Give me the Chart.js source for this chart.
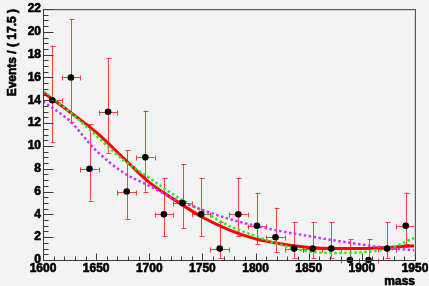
<!DOCTYPE html>
<html><head><meta charset="utf-8">
<script src="https://cdn.jsdelivr.net/npm/chart.js@4/dist/chart.umd.min.js"></script>
<style>html,body{margin:0;padding:0;background:#f3f3f3;}#c{display:block;}</style>
</head><body>
<canvas id="c" width="429" height="286"></canvas>
<script>
// ---- data ----
const binCenters = [1608.75,1626.25,1643.75,1661.25,1678.75,1696.25,1713.75,1731.25,1748.75,1766.25,1783.75,1801.25,1818.75,1836.25,1853.75,1871.25,1888.75,1906.25,1923.75,1941.25];
const counts     = [14,16,8,13,6,9,4,5,4,1,4,3,2,1,1,1,0,0,1,3];
const errLow     = [3.7,3.9,2.8,3.6,2.4,3.0,1.9,2.2,1.9,0.8,1.9,1.6,1.3,0.8,0.8,0.8,0,0,0.8,1.6];
const errHigh    = [4.8,5.1,3.9,4.7,3.6,4.1,3.2,3.4,3.2,2.3,3.2,2.9,2.6,2.3,2.3,2.3,1.8,1.8,2.3,2.9];
const binHalfWidth = 8.75;
const curveX     = [1600,1625,1650,1675,1700,1725,1750,1775,1800,1825,1850,1875,1900,1925,1950];
const redFit     = [14.7,13.0,11.2,9.0,6.8,5.2,3.75,2.65,1.85,1.4,1.1,1.0,1.0,1.1,1.25];
const greenFit   = [14.8,13.0,10.9,8.8,7.2,5.6,4.3,3.0,2.1,1.3,0.75,0.62,0.68,1.0,1.95];
const violetFit  = [13.9,12.2,9.6,7.7,6.5,5.3,4.4,3.6,3.0,2.5,2.1,1.7,1.35,1.05,0.85];
const xTickLabels = ['1600','1650','1700','1750','1800','1850','1900','1950'];
const yTickLabels = ['0','2','4','6','8','10','12','14','16','18','20','22'];
const xTitle = 'mass';
const yTitle = 'Events / ( 17.5 )';

const pts = (xs, ys) => xs.map((x,i)=>({x:x,y:ys[i]}));
const FONT = 'bold 12px "Liberation Sans", Arial, Helvetica, sans-serif';

function boldText(ctx, t, x, y){
  ctx.fillText(t, x, y);
  ctx.strokeText(t, x, y);
}

const bgPlugin = {
  id:'bg',
  beforeDraw(chart){
    const ctx = chart.ctx;
    ctx.save(); ctx.fillStyle='#f3f3f3'; ctx.fillRect(0,0,chart.width,chart.height); ctx.restore();
  }
};

const errPlugin = {
  id:'errbars',
  beforeDatasetsDraw(chart){
    const {ctx, scales:{x,y}} = chart;
    ctx.save();
    ctx.strokeStyle='rgba(255,30,30,0.85)';
    ctx.lineWidth=1;
    binCenters.forEach((bc,i)=>{
      const px = Math.round(x.getPixelForValue(bc))+0.5;
      const py = Math.round(y.getPixelForValue(counts[i]))+0.5;
      const yl = y.getPixelForValue(counts[i]-errLow[i]);
      const yh = y.getPixelForValue(counts[i]+errHigh[i]);
      const xl = x.getPixelForValue(bc-binHalfWidth);
      const xh = x.getPixelForValue(bc+binHalfWidth);
      ctx.beginPath();
      ctx.moveTo(px,yl); ctx.lineTo(px,yh);
      ctx.moveTo(px-2,Math.round(yh)+0.5); ctx.lineTo(px+3,Math.round(yh)+0.5);
      if (errLow[i]>0){ ctx.moveTo(px-2,Math.round(yl)+0.5); ctx.lineTo(px+3,Math.round(yl)+0.5); }
      ctx.moveTo(xl,py); ctx.lineTo(xh,py);
      ctx.moveTo(Math.round(xl)+0.5,py-2); ctx.lineTo(Math.round(xl)+0.5,py+3);
      ctx.moveTo(Math.round(xh)+0.5,py-2); ctx.lineTo(Math.round(xh)+0.5,py+3);
      ctx.stroke();
    });
    ctx.restore();
  }
};

const axesPlugin = {
  id:'rootaxes',
  afterDraw(chart){
    const {ctx, chartArea:a, scales:{x,y}} = chart;
    ctx.save();
    ctx.lineWidth=1;
    ctx.strokeStyle='#5a5a5a';
    ctx.beginPath(); ctx.moveTo(a.left,a.top+0.5); ctx.lineTo(a.right+1,a.top+0.5); ctx.stroke();
    ctx.beginPath(); ctx.moveTo(a.right+0.5,a.top); ctx.lineTo(a.right+0.5,a.bottom); ctx.stroke();
    ctx.strokeStyle='#d4d4d4';
    ctx.beginPath(); ctx.moveTo(a.left,a.top+1.5); ctx.lineTo(a.right,a.top+1.5); ctx.stroke();
    ctx.beginPath(); ctx.moveTo(a.right-0.5,a.top+1); ctx.lineTo(a.right-0.5,a.bottom); ctx.stroke();
    ctx.strokeStyle='#3a3a3a';
    const L = Math.round(a.left)+0.5, B = Math.round(a.bottom)+0.5;
    ctx.beginPath(); ctx.moveTo(L,a.top); ctx.lineTo(L,B); ctx.lineTo(a.right+1,B); ctx.stroke();
    ctx.beginPath();
    for(let v=0; v<=22.001; v+=0.5){
      const py = Math.round(y.getPixelForValue(v))+0.5;
      const len = (Math.abs(v/2-Math.round(v/2))<1e-6) ? 10 : 5;
      ctx.moveTo(L,py); ctx.lineTo(L+len,py);
    }
    for(let v=1600; v<=1950; v+=10){
      const px = Math.round(x.getPixelForValue(v))+0.5;
      const len = (v%50===0) ? 7 : 4;
      ctx.moveTo(px,B); ctx.lineTo(px,B-len);
    }
    ctx.stroke();
    ctx.fillStyle='#000';
    ctx.strokeStyle='#000';
    ctx.lineWidth=0.6;
    ctx.font=FONT;
    ctx.textAlign='right'; ctx.textBaseline='middle';
    yTickLabels.forEach(t=>{
      boldText(ctx, t, a.left-2, y.getPixelForValue(parseFloat(t)));
    });
    ctx.textAlign='center'; ctx.textBaseline='top';
    xTickLabels.forEach(t=>{
      boldText(ctx, t, x.getPixelForValue(parseFloat(t)), a.bottom+3);
    });
    ctx.textAlign='right'; ctx.textBaseline='top';
    boldText(ctx, xTitle, a.right, a.bottom+16);
    ctx.save();
    ctx.translate(7, a.top);
    ctx.rotate(-Math.PI/2);
    ctx.textAlign='right'; ctx.textBaseline='top';
    boldText(ctx, yTitle, 0, 0);
    ctx.restore();
    ctx.restore();
  }
};

new Chart(document.getElementById('c'), {
  type:'scatter',
  data:{
    datasets:[
      {label:'data', data:pts(binCenters,counts), showLine:false, pointRadius:3.3, pointBackgroundColor:'#000', pointBorderColor:'#000', pointBorderWidth:0, order:0, clip:false},
      {label:'fit1', data:pts(curveX,redFit), showLine:true, borderColor:'#ff0000', borderWidth:3, pointRadius:0, cubicInterpolationMode:'monotone', order:3},
      {label:'fit2', data:pts(curveX,greenFit), showLine:true, borderColor:'#22ee22', borderWidth:2.5, borderDash:[2.5,2.5], pointRadius:0, cubicInterpolationMode:'monotone', order:2},
      {label:'fit3', data:pts(curveX,violetFit), showLine:true, borderColor:'#cc33ff', borderWidth:2.5, borderDash:[2.5,2.5], pointRadius:0, cubicInterpolationMode:'monotone', order:1}
    ]
  },
  options:{
    responsive:false, animation:false, devicePixelRatio:1,
    layout:{padding:{left:43,right:14,top:9,bottom:26}},
    plugins:{legend:{display:false}, tooltip:{enabled:false}},
    scales:{
      x:{type:'linear', min:1600, max:1950, display:false},
      y:{type:'linear', min:0, max:22, display:false}
    }
  },
  plugins:[bgPlugin, errPlugin, axesPlugin]
});
</script>
</body></html>
